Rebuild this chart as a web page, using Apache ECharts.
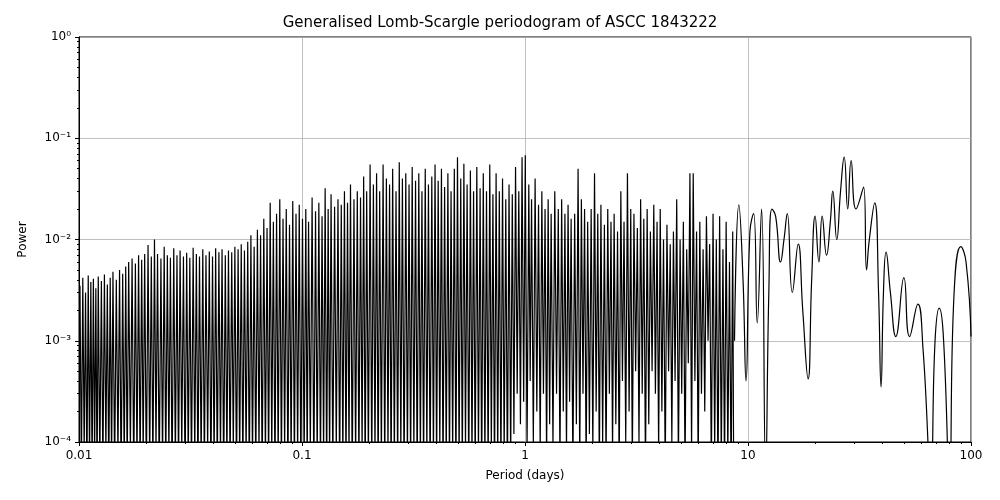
<!DOCTYPE html>
<html><head><meta charset="utf-8">
<script src="https://cdn.jsdelivr.net/npm/echarts@6/dist/echarts.min.js"></script>
<style>html,body{margin:0;background:#fff}#c{width:1000px;height:500px}</style>
</head><body><div id="c"></div>
<script>
const titleText = "Generalised Lomb-Scargle periodogram of ASCC 1843222";
const xTicks = [0.01, 0.1, 1, 10, 100];
const yTicks = [1e-4, 1e-3, 1e-2, 1e-1, 1];
const densePeaks = [
[0.0101,0.0035],[0.0104,0.0042],[0.0107,0.0030],[0.0110,0.0044],[0.0113,0.0038],[0.0116,0.0041],[0.0119,0.0033],[0.0122,0.0043],
[0.0126,0.0039],[0.0130,0.0045],[0.0134,0.0036],[0.0138,0.0042],[0.0142,0.0048],[0.0147,0.0040],[0.0152,0.0050],[0.0157,0.0046],
[0.0162,0.0054],[0.0167,0.0060],[0.0173,0.0065],[0.0179,0.0058],[0.0185,0.0070],[0.0191,0.0063],[0.0197,0.0072],[0.0204,0.0088],
[0.0211,0.0068],[0.0218,0.0100],[0.0225,0.0072],[0.0233,0.0065],[0.0241,0.0085],[0.0249,0.0070],[0.0257,0.0066],[0.0266,0.0082],
[0.0275,0.0070],[0.0284,0.0078],[0.0294,0.0068],[0.0304,0.0074],[0.0314,0.0066],[0.0325,0.0083],[0.0336,0.0072],[0.0347,0.0068],
[0.0359,0.0080],[0.0371,0.0070],[0.0384,0.0076],[0.0397,0.0068],[0.0410,0.0082],[0.0424,0.0075],[0.0438,0.0080],[0.0453,0.0070],
[0.0468,0.0078],[0.0484,0.0075],[0.0500,0.0085],[0.0517,0.0080],[0.0534,0.0090],[0.0552,0.0078],[0.0571,0.0095],[0.0590,0.0110],
[0.0610,0.0085],[0.0631,0.0125],[0.0652,0.0110],[0.0674,0.0160],[0.0697,0.0130],[0.0720,0.0230],[0.0744,0.0150],[0.0769,0.0180],
[0.0795,0.0250],[0.0822,0.0160],[0.0850,0.0200],[0.0879,0.0140],[0.0909,0.0240],[0.0940,0.0180],[0.0972,0.0220],[0.1005,0.0160],
[0.104,0.0200],[0.107,0.0150],[0.111,0.0260],[0.115,0.0190],[0.119,0.0230],[0.123,0.0170],[0.127,0.0320],[0.131,0.0200],
[0.135,0.0280],[0.140,0.0210],[0.145,0.0250],[0.150,0.0220],[0.155,0.0300],[0.160,0.0230],[0.165,0.0350],[0.171,0.0250],
[0.177,0.0300],[0.183,0.0260],[0.189,0.0420],[0.195,0.0300],[0.202,0.0550],[0.209,0.0350],[0.216,0.0450],[0.223,0.0300],
[0.231,0.0550],[0.239,0.0400],[0.247,0.0350],[0.255,0.0500],[0.264,0.0300],[0.273,0.0580],[0.282,0.0400],[0.292,0.0450],
[0.302,0.0350],[0.312,0.0520],[0.323,0.0380],[0.334,0.0450],[0.345,0.0300],[0.357,0.0500],[0.369,0.0350],[0.382,0.0420],
[0.395,0.0550],[0.408,0.0380],[0.422,0.0500],[0.436,0.0330],[0.451,0.0450],[0.466,0.0300],[0.482,0.0500],[0.498,0.0650],
[0.515,0.0400],[0.532,0.0560],[0.550,0.0350],[0.569,0.0480],[0.588,0.0300],[0.608,0.0520],[0.629,0.0320],[0.650,0.0450],
[0.672,0.0300],[0.695,0.0550],[0.718,0.0280],[0.742,0.0450],[0.767,0.0300],[0.793,0.0400],[0.820,0.0250],[0.848,0.0350],
[0.877,0.0280],[0.907,0.0520],[0.938,0.0300],[0.970,0.0650],[1.003,0.0680],[1.04,0.0350],[1.07,0.0250],[1.11,0.0400],
[1.15,0.0220],[1.19,0.0300],[1.23,0.0200],[1.27,0.0250],[1.31,0.0180],[1.36,0.0300],[1.41,0.0200],[1.46,0.0250],
[1.51,0.0180],[1.56,0.0220],[1.61,0.0160],[1.67,0.0180],[1.73,0.0500],[1.79,0.0250],[1.85,0.0200],[1.91,0.0150],
[1.98,0.0200],[2.05,0.0450],[2.12,0.0180],[2.19,0.0220],[2.27,0.0140],[2.35,0.0200],[2.43,0.0150],[2.51,0.0180],
[2.60,0.0120],[2.69,0.0300],[2.78,0.0150],[2.88,0.0450],[2.98,0.0200],[3.08,0.0180],[3.19,0.0130],[3.30,0.0250],
[3.41,0.0160],[3.53,0.0200],[3.65,0.0120],[3.78,0.0220],[3.91,0.0150],[4.04,0.0200],[4.18,0.0100],[4.33,0.0140],
[4.48,0.0090],[4.63,0.0120],[4.79,0.0250],[4.96,0.0100],[5.13,0.0150],[5.31,0.0080],[5.49,0.0450],[5.68,0.0450],
[5.88,0.0120],[6.08,0.0150],[6.29,0.0080],[6.51,0.0170],[6.73,0.0090],[6.97,0.0180],[7.21,0.0100],[7.46,0.0170],
[7.72,0.0080],[7.98,0.0150],[8.26,0.0060],[8.54,0.0120]
];
const denseTroughs = [
0.00005,0.00008,0.00004,0.00006,0.00005,0.00007,0.00004,0.00006,0.00005,0.00008,0.00004,0.00006,0.00005,0.00007,0.00004,0.00006,
0.00005,0.00008,0.00004,0.00006,0.00005,0.00007,0.00004,0.00006,0.00005,0.00008,0.00004,0.00006,0.00005,0.00007,0.00004,0.00006,
0.00005,0.00008,0.00004,0.00006,0.00005,0.00007,0.00004,0.00006,0.00005,0.00008,0.00004,0.00006,0.00005,0.00007,0.00004,0.00006,
0.00005,0.00008,0.00004,0.00006,0.00005,0.00007,0.00004,0.00006,0.00005,0.00008,0.00004,0.00006,0.00005,0.00007,0.00004,0.00006,
0.00005,0.00008,0.00004,0.00006,0.00005,0.00007,0.00004,0.00006,0.00005,0.00008,0.00004,0.00006,0.00005,0.00007,0.00004,0.00006,
0.00005,0.00008,0.00004,0.00006,0.00005,0.00007,0.00004,0.00006,0.00005,0.00008,0.00004,0.00006,0.00005,0.00007,0.00004,0.00006,
0.00005,0.00008,0.00004,0.00006,0.00005,0.00007,0.00004,0.00006,0.00005,0.00008,0.00004,0.00006,0.00005,0.00007,0.00004,0.00006,
0.00005,0.00008,0.00004,0.00006,0.00005,0.00007,0.00004,0.00006,0.00005,0.00008,0.00004,0.00006,0.00005,0.00007,0.00004,0.00006,
0.00005,0.00008,0.00004,0.00006,0.00005,0.00007,0.00004,0.00006,0.00012,0.00030,0.00015,0.00025,0.00008,0.00040,0.00010,0.00020,
0.00008,0.00030,0.00006,0.00015,0.00009,0.00030,0.00006,0.00020,0.00008,0.00025,0.00005,0.00015,0.00006,0.00030,0.00005,0.00012,
0.00008,0.00020,0.00005,0.00010,0.00006,0.00030,0.00008,0.00015,0.00005,0.00040,0.00010,0.00020,0.00006,0.00050,0.00010,0.00030,
0.00005,0.00015,0.00050,0.00030,0.00008,0.00020,0.00005,0.00050,0.00010,0.00040,0.00006,0.00030,0.00005,0.00060,0.00008,0.00040,
0.00005,0.00030,0.00020,0.00100
];
const sparse = [
[8.7,0.0010],[9.1,0.022],[9.5,0.004],[9.8,0.0004],[10.2,0.012],[10.6,0.018],[11.0,0.0015],[11.5,0.020],[12.0,0.00005],
[12.4,0.003],[12.8,0.020],[13.3,0.017],[14.0,0.006],[14.5,0.010],[15.0,0.018],[15.8,0.003],[16.8,0.009],[17.6,0.002],[18.6,0.00042],
[19.3,0.004],[20.0,0.017],[20.8,0.006],[21.5,0.017],[22.5,0.007],[23.4,0.015],[24.0,0.030],[25.0,0.010],[26.0,0.030],[27.0,0.065],
[28.0,0.020],[29.0,0.060],[30.5,0.020],[33.0,0.033],[34.0,0.005],[35.0,0.010],[37.0,0.023],[38.5,0.003],[39.5,0.00035],[40.5,0.003],
[41.6,0.0075],[43.5,0.003],[46.0,0.0011],[50.0,0.0042],[53.0,0.0011],[57.8,0.0023],[61.0,0.0008],[66.0,0.00005],[69.0,0.0010],
[72.0,0.0021],[75.0,0.0012],[80.0,0.00005],[84.0,0.0030],[90.0,0.0085],[95.0,0.0060],[100.0,0.0011]
];
const data = [];
densePeaks.forEach((p, i) => {
  data.push(p);
  const next = densePeaks[i + 1] ? densePeaks[i + 1][0] : 8.7;
  data.push([Math.sqrt(p[0] * next), denseTroughs[i % denseTroughs.length]]);
});

const sup = {'-':'⁻','0':'⁰','1':'¹','2':'²','3':'³','4':'⁴'};
const chart = echarts.init(document.getElementById('c'));
chart.setOption({
  animation: false,
  title: { text: titleText, left: 'center', top: 11, textStyle: { fontFamily: 'DejaVu Sans', fontSize: 15, fontWeight: 'normal', color: '#000' } },
  grid: { left: 79, right: 29, top: 37, bottom: 58, show: true, borderColor: '#000', borderWidth: 1 },
  xAxis: {
    type: 'log', min: 0.01, max: 100, logBase: 10,
    name: 'Period (days)', nameLocation: 'middle', nameGap: 28,
    nameTextStyle: { fontFamily: 'DejaVu Sans', fontSize: 12, color: '#000' },
    axisLine: { lineStyle: { color: '#000' } },
    axisTick: { show: true, length: 4, lineStyle: { color: '#000' } },
    minorTick: { show: true, splitNumber: 9, length: 2, lineStyle: { color: '#000' } },
    axisLabel: { fontFamily: 'DejaVu Sans', fontSize: 12, color: '#000', formatter: v => String(xTicks.find(t => Math.abs(t - v) / t < 1e-6) ?? v) },
    splitLine: { show: true, lineStyle: { color: '#b0b0b0', width: 0.8 } }
  },
  yAxis: {
    type: 'log', min: 1e-4, max: 1, logBase: 10,
    name: 'Power', nameLocation: 'middle', nameGap: 50,
    nameTextStyle: { fontFamily: 'DejaVu Sans', fontSize: 12, color: '#000' },
    axisLine: { show: true, lineStyle: { color: '#000' } },
    axisTick: { show: true, length: 4, lineStyle: { color: '#000' } },
    minorTick: { show: true, splitNumber: 9, length: 2, lineStyle: { color: '#000' } },
    axisLabel: { fontFamily: 'DejaVu Sans', fontSize: 12, color: '#000', formatter: v => {
      const e = Math.round(Math.log10(v));
      return '10' + String(e).split('').map(c => sup[c]).join('');
    } },
    splitLine: { show: true, lineStyle: { color: '#b0b0b0', width: 0.8 } }
  },
  series: [
    { type: 'line', data: data, showSymbol: false, clip: true, lineStyle: { color: '#000', width: 1.2 } },
    { type: 'line', data: sparse, showSymbol: false, clip: true, smooth: 0.5, lineStyle: { color: '#000', width: 1.2 } }
  ]
});
</script></body></html>
